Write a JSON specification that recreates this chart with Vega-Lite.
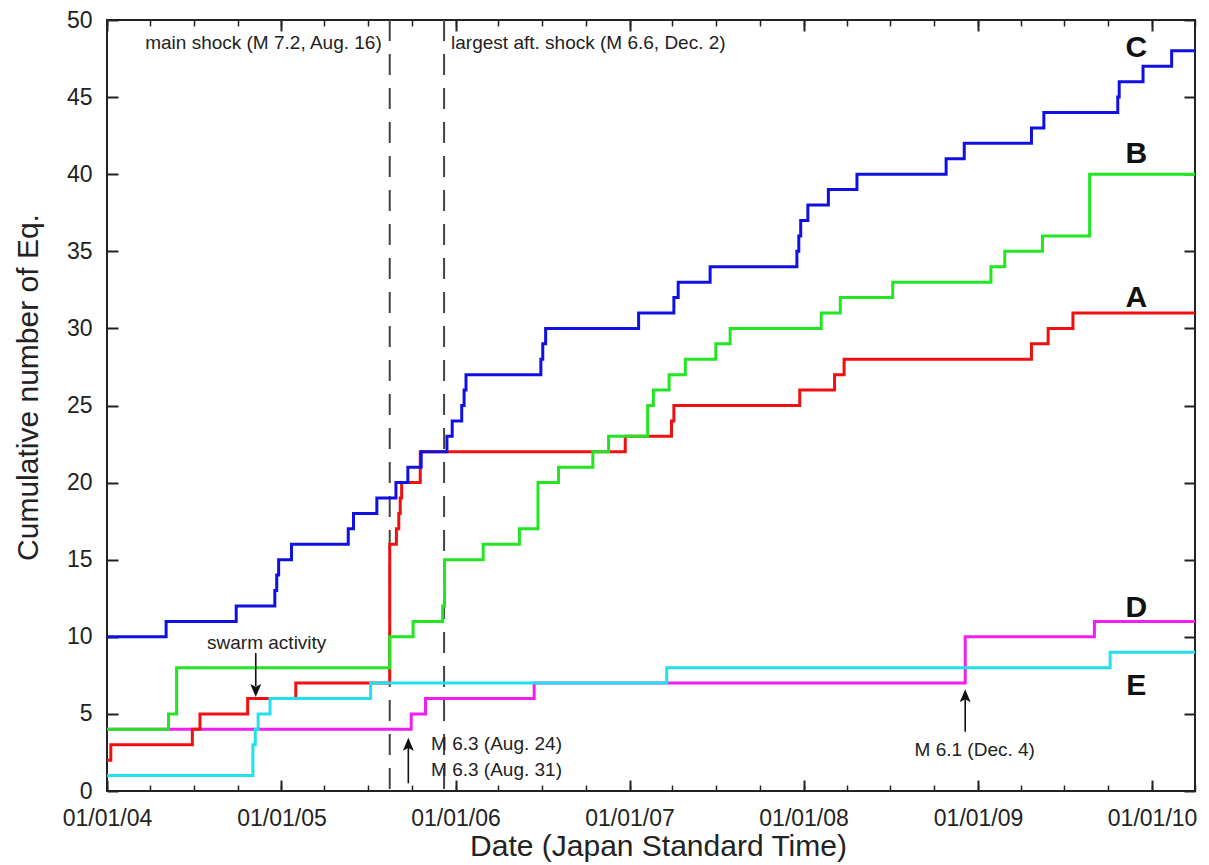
{
  "$schema": "https://vega.github.io/schema/vega-lite/v6.json",
  "width": 1088,
  "height": 771,
  "autosize": "none",
  "padding": {"left": 107, "top": 20, "right": 14, "bottom": 74},
  "background": "white",
  "config": {
    "view": {"stroke": "#222", "strokeWidth": 2},
    "font": "Liberation Sans"
  },
  "datasets": {
    "C": [
      {"date": "2004-01-01", "n": 10}, {"date": "2004-05-04", "n": 11}, {"date": "2004-09-28", "n": 12},
      {"date": "2004-12-18", "n": 13}, {"date": "2004-12-22", "n": 14}, {"date": "2004-12-26", "n": 15},
      {"date": "2005-01-22", "n": 16}, {"date": "2005-05-21", "n": 17}, {"date": "2005-06-01", "n": 18},
      {"date": "2005-07-20", "n": 19}, {"date": "2005-08-29", "n": 20}, {"date": "2005-09-23", "n": 21},
      {"date": "2005-10-21", "n": 22}, {"date": "2005-12-14", "n": 23}, {"date": "2005-12-25", "n": 24},
      {"date": "2006-01-14", "n": 25}, {"date": "2006-01-19", "n": 26}, {"date": "2006-01-23", "n": 27},
      {"date": "2006-06-29", "n": 28}, {"date": "2006-07-03", "n": 29}, {"date": "2006-07-09", "n": 30},
      {"date": "2007-01-20", "n": 31}, {"date": "2007-04-04", "n": 32}, {"date": "2007-04-13", "n": 33},
      {"date": "2007-06-19", "n": 34}, {"date": "2007-12-18", "n": 35}, {"date": "2007-12-22", "n": 36},
      {"date": "2007-12-26", "n": 37}, {"date": "2008-01-10", "n": 38}, {"date": "2008-02-22", "n": 39},
      {"date": "2008-04-22", "n": 40}, {"date": "2008-10-26", "n": 41}, {"date": "2008-12-03", "n": 42},
      {"date": "2009-04-23", "n": 43}, {"date": "2009-05-19", "n": 44}, {"date": "2009-10-21", "n": 45},
      {"date": "2009-10-24", "n": 46}, {"date": "2009-12-13", "n": 47}, {"date": "2010-02-11", "n": 48},
      {"date": "2010-04-01", "n": 48}
    ],
    "B": [
      {"date": "2004-01-01", "n": 4}, {"date": "2004-05-09", "n": 5}, {"date": "2004-05-26", "n": 8},
      {"date": "2005-08-16", "n": 10}, {"date": "2005-10-04", "n": 11}, {"date": "2005-12-05", "n": 12},
      {"date": "2005-12-09", "n": 15}, {"date": "2006-02-28", "n": 16}, {"date": "2006-05-15", "n": 17},
      {"date": "2006-06-23", "n": 20}, {"date": "2006-08-05", "n": 21}, {"date": "2006-10-16", "n": 22},
      {"date": "2006-11-18", "n": 23}, {"date": "2007-02-08", "n": 25}, {"date": "2007-02-20", "n": 26},
      {"date": "2007-03-25", "n": 27}, {"date": "2007-04-28", "n": 28}, {"date": "2007-07-01", "n": 29},
      {"date": "2007-07-31", "n": 30}, {"date": "2008-02-07", "n": 31}, {"date": "2008-03-18", "n": 32},
      {"date": "2008-07-06", "n": 33}, {"date": "2009-01-28", "n": 34}, {"date": "2009-02-26", "n": 35},
      {"date": "2009-05-16", "n": 36}, {"date": "2009-08-23", "n": 40}, {"date": "2010-04-01", "n": 40}
    ],
    "A": [
      {"date": "2004-01-01", "n": 2}, {"date": "2004-01-09", "n": 3}, {"date": "2004-06-28", "n": 4},
      {"date": "2004-07-14", "n": 5}, {"date": "2004-10-22", "n": 6}, {"date": "2005-01-31", "n": 7},
      {"date": "2005-08-16", "n": 16}, {"date": "2005-08-30", "n": 17}, {"date": "2005-09-04", "n": 18},
      {"date": "2005-09-07", "n": 19}, {"date": "2005-09-10", "n": 20}, {"date": "2005-10-19", "n": 22},
      {"date": "2006-12-23", "n": 23}, {"date": "2007-03-30", "n": 24}, {"date": "2007-04-04", "n": 25},
      {"date": "2007-12-24", "n": 26}, {"date": "2008-03-06", "n": 27}, {"date": "2008-03-26", "n": 28},
      {"date": "2009-04-23", "n": 29}, {"date": "2009-05-28", "n": 30}, {"date": "2009-07-19", "n": 31},
      {"date": "2010-04-01", "n": 31}
    ],
    "D": [
      {"date": "2004-01-01", "n": 4}, {"date": "2005-09-30", "n": 5}, {"date": "2005-10-30", "n": 6},
      {"date": "2006-06-15", "n": 7}, {"date": "2008-12-05", "n": 10}, {"date": "2009-09-02", "n": 11},
      {"date": "2010-04-01", "n": 11}
    ],
    "E": [
      {"date": "2004-01-01", "n": 1}, {"date": "2004-11-02", "n": 3}, {"date": "2004-11-07", "n": 4},
      {"date": "2004-11-13", "n": 5}, {"date": "2004-12-08", "n": 6}, {"date": "2005-07-07", "n": 7},
      {"date": "2007-03-20", "n": 8}, {"date": "2009-10-05", "n": 9}, {"date": "2010-04-01", "n": 9}
    ],
    "shocks": [{"date": "2005-08-16"}, {"date": "2005-12-08"}],
    "arrows": [
      {"date": "2004-11-08", "y1": 8.95, "y2": 6.8},
      {"date": "2005-09-24", "y1": 0.5, "y2": 3.0},
      {"date": "2008-12-05", "y1": 3.85, "y2": 6.2}
    ],
    "headsDown": [{"date": "2004-11-08", "n": 6.1}],
    "headsUp": [{"date": "2005-09-24", "n": 3.45}, {"date": "2008-12-05", "n": 6.6}],
    "textRight": [{"date": "2005-08-16", "n": 48.5, "label": "main shock (M 7.2, Aug. 16)"}],
    "textLeft": [
      {"date": "2005-12-08", "n": 48.5, "label": "largest aft. shock (M 6.6, Dec. 2)"},
      {"date": "2005-10-27", "n": 3.08, "label": "M 6.3 (Aug. 24)"},
      {"date": "2005-10-27", "n": 1.36, "label": "M 6.3 (Aug. 31)"}
    ],
    "textCenter": [
      {"date": "2004-12-01", "n": 9.6, "label": "swarm activity"},
      {"date": "2008-12-25", "n": 2.66, "label": "M 6.1 (Dec. 4)"}
    ],
    "series": [
      {"date": "2009-11-29", "n": 48.2, "label": "C"},
      {"date": "2009-11-29", "n": 41.3, "label": "B"},
      {"date": "2009-11-29", "n": 32.0, "label": "A"},
      {"date": "2009-11-29", "n": 11.9, "label": "D"},
      {"date": "2009-11-29", "n": 6.8, "label": "E"}
    ]
  },
  "encoding": {
    "x": {
      "field": "date", "type": "temporal",
      "scale": {"type": "utc", "domain": [{"year": 2004, "month": 1, "date": 1, "utc": true}, {"year": 2010, "month": 4, "date": 1, "utc": true}]}
    }
  },
  "layer": [
    {
      "data": {"name": "shocks"},
      "mark": {"type": "rule", "color": "#444", "strokeWidth": 2, "strokeDash": [21, 13]},
      "encoding": {
        "x": {"field": "date", "type": "temporal",
          "axis": {"orient": "bottom", "tickCount": {"interval": "year", "step": 1}, "format": "%m/%d/%y",
            "ticks": false, "domain": false, "grid": false, "labelFlush": false, "labelOverlap": false,
            "labelFontSize": 23, "labelColor": "#222", "labelPadding": 16,
            "title": "Date (Japan Standard Time)", "titleFontSize": 30, "titleFontWeight": "normal",
            "titleColor": "#222", "titlePadding": 1, "titleX": 551}}
      }
    },
    {
      "data": {"name": "D"},
      "mark": {"type": "line", "interpolate": "step-after", "strokeWidth": 3, "color": "#f01ef0"},
      "encoding": {
        "x": {"field": "date", "type": "temporal",
          "axis": {"orient": "bottom", "tickCount": {"interval": "year", "step": 1}, "labels": false,
            "domain": false, "grid": false, "tickSize": -11, "tickWidth": 2, "tickColor": "#222", "title": null}},
        "y": {"field": "n", "type": "quantitative", "scale": {"domain": [0, 50], "nice": false},
          "axis": {"orient": "left", "values": [0, 5, 10, 15, 20, 25, 30, 35, 40, 45, 50], "ticks": false,
            "domain": false, "grid": false, "labelFlush": false, "labelFontSize": 23, "labelColor": "#222",
            "labelPadding": 15, "title": "Cumulative number of Eq.", "titleFontSize": 30,
            "titleFontWeight": "normal", "titleColor": "#222", "titlePadding": 23, "titleY": 367}}
      }
    },
    {
      "data": {"name": "A"},
      "mark": {"type": "line", "interpolate": "step-after", "strokeWidth": 3, "color": "#f01010"},
      "encoding": {
        "x": {"field": "date", "type": "temporal",
          "axis": {"orient": "bottom", "tickCount": {"interval": "month", "step": 3}, "labels": false,
            "domain": false, "grid": false, "tickSize": -6, "tickWidth": 1.5, "tickColor": "#222", "title": null}},
        "y": {"field": "n", "type": "quantitative",
          "axis": {"orient": "left", "values": [0, 5, 10, 15, 20, 25, 30, 35, 40, 45, 50], "labels": false,
            "domain": false, "grid": false, "tickSize": -11, "tickWidth": 2, "tickColor": "#222", "title": null}}
      }
    },
    {
      "data": {"name": "E"},
      "mark": {"type": "line", "interpolate": "step-after", "strokeWidth": 3, "color": "#22e0ee"},
      "encoding": {
        "x": {"field": "date", "type": "temporal",
          "axis": {"orient": "top", "tickCount": {"interval": "year", "step": 1}, "labels": false,
            "domain": false, "grid": false, "tickSize": -11, "tickWidth": 2, "tickColor": "#222", "title": null}},
        "y": {"field": "n", "type": "quantitative",
          "axis": {"orient": "right", "values": [0, 5, 10, 15, 20, 25, 30, 35, 40, 45, 50], "labels": false,
            "domain": false, "grid": false, "tickSize": -11, "tickWidth": 2, "tickColor": "#222", "title": null}}
      }
    },
    {
      "data": {"name": "B"},
      "mark": {"type": "line", "interpolate": "step-after", "strokeWidth": 3, "color": "#22e622"},
      "encoding": {
        "x": {"field": "date", "type": "temporal",
          "axis": {"orient": "top", "tickCount": {"interval": "month", "step": 3}, "labels": false,
            "domain": false, "grid": false, "tickSize": -6, "tickWidth": 1.5, "tickColor": "#222", "title": null}},
        "y": {"field": "n", "type": "quantitative", "axis": null}
      }
    },
    {
      "data": {"name": "C"},
      "mark": {"type": "line", "interpolate": "step-after", "strokeWidth": 3, "color": "#1010e0"},
      "encoding": {
        "x": {"field": "date", "type": "temporal", "axis": null},
        "y": {"field": "n", "type": "quantitative", "axis": null}
      }
    },
    {
      "data": {"name": "arrows"},
      "mark": {"type": "rule", "color": "#111", "strokeWidth": 1.6},
      "encoding": {
        "x": {"field": "date", "type": "temporal", "axis": null},
        "y": {"field": "y1", "type": "quantitative", "axis": null},
        "y2": {"field": "y2"}
      }
    },
    {
      "data": {"name": "headsDown"},
      "mark": {"type": "point", "shape": "M0,0L-0.42,-1L0,-0.78L0.42,-1Z", "filled": true, "color": "#111", "size": 676, "opacity": 1},
      "encoding": {
        "x": {"field": "date", "type": "temporal", "axis": null},
        "y": {"field": "n", "type": "quantitative", "axis": null}
      }
    },
    {
      "data": {"name": "headsUp"},
      "mark": {"type": "point", "shape": "M0,0L-0.42,1L0,0.78L0.42,1Z", "filled": true, "color": "#111", "size": 676, "opacity": 1},
      "encoding": {
        "x": {"field": "date", "type": "temporal", "axis": null},
        "y": {"field": "n", "type": "quantitative", "axis": null}
      }
    },
    {
      "data": {"name": "textRight"},
      "mark": {"type": "text", "align": "right", "baseline": "middle", "dx": -8, "font": "Liberation Sans", "fontSize": 19, "color": "#222"},
      "encoding": {
        "x": {"field": "date", "type": "temporal", "axis": null},
        "y": {"field": "n", "type": "quantitative", "axis": null},
        "text": {"field": "label"}
      }
    },
    {
      "data": {"name": "textLeft"},
      "mark": {"type": "text", "align": "left", "baseline": "middle", "dx": 7, "font": "Liberation Sans", "fontSize": 19, "color": "#222"},
      "encoding": {
        "x": {"field": "date", "type": "temporal", "axis": null},
        "y": {"field": "n", "type": "quantitative", "axis": null},
        "text": {"field": "label"}
      }
    },
    {
      "data": {"name": "textCenter"},
      "mark": {"type": "text", "align": "center", "baseline": "middle", "font": "Liberation Sans", "fontSize": 19, "color": "#222"},
      "encoding": {
        "x": {"field": "date", "type": "temporal", "axis": null},
        "y": {"field": "n", "type": "quantitative", "axis": null},
        "text": {"field": "label"}
      }
    },
    {
      "data": {"name": "series"},
      "mark": {"type": "text", "align": "center", "baseline": "middle", "fontWeight": "bold", "fontSize": 30, "color": "#111"},
      "encoding": {
        "x": {"field": "date", "type": "temporal", "axis": null},
        "y": {"field": "n", "type": "quantitative", "axis": null},
        "text": {"field": "label"}
      }
    }
  ],
  "resolve": {"axis": {"x": "independent", "y": "independent"}}
}
